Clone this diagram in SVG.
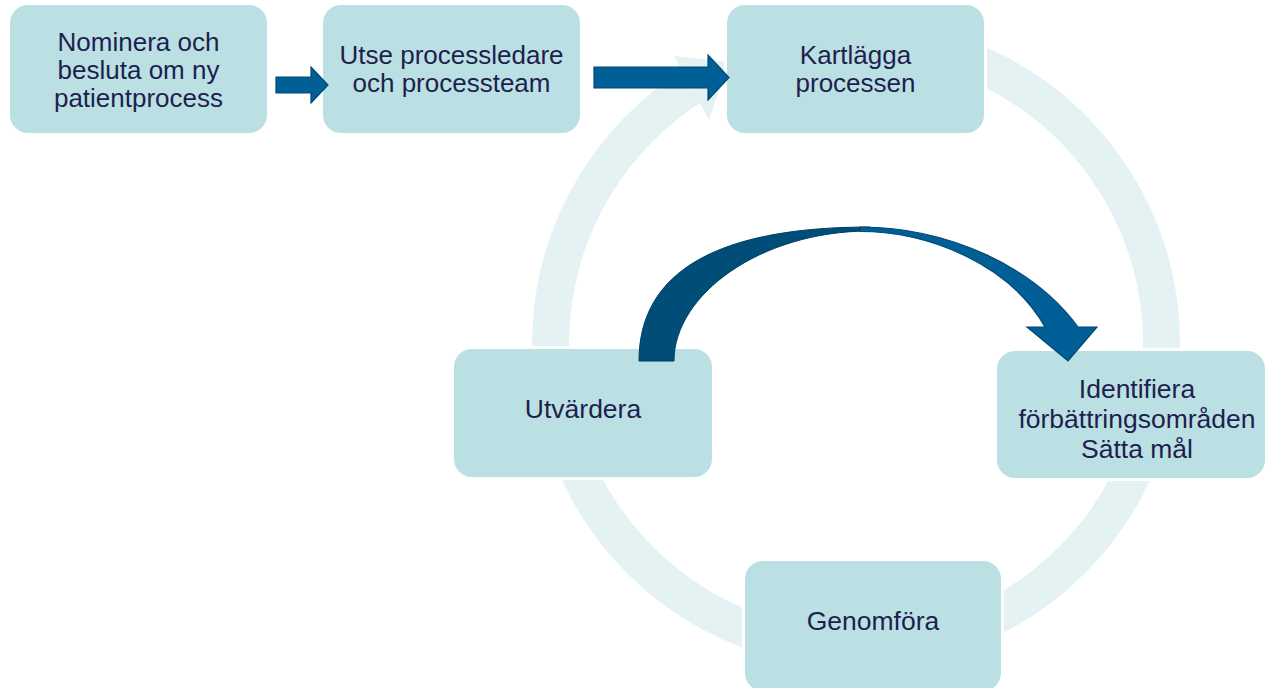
<svg xmlns="http://www.w3.org/2000/svg" width="1266" height="688" viewBox="0 0 1266 688">
<style>
.box{fill:#bbe0e3;stroke:#ffffff;stroke-width:6;paint-order:stroke}
.t{font-family:"Liberation Sans",Arial,sans-serif;font-size:26.5px;fill:#1e1f4f;text-anchor:middle}
.ts{font-size:26px}
.ring{fill:none;stroke:#e5f2f4;stroke-width:37}
.arr{fill:#005f96;stroke:#004872;stroke-width:1.2;stroke-linejoin:miter}
.arrd{fill:#004d78;stroke:#003f66;stroke-width:1}
</style>
<rect width="1266" height="688" fill="#ffffff"/>
<g id="cycle">
<path class="ring" d="M 856 38.5 A 305.5 305.5 0 1 1 690.9 87"/>
<polygon points="674,56 709,120 729,62" fill="#e5f2f4"/>
</g>
<g id="n1"><rect class="box" x="10" y="5" width="257" height="128" rx="18"/>
<text class="t ts"><tspan x="138.5" y="51">Nominera och</tspan><tspan x="138.5" y="79">besluta om ny</tspan><tspan x="138.5" y="107">patientprocess</tspan></text></g>
<g id="n2"><rect class="box" x="323" y="5" width="257" height="128" rx="18"/>
<text class="t ts"><tspan x="451.5" y="64">Utse processledare</tspan><tspan x="451.5" y="92">och processteam</tspan></text></g>
<g id="n3"><rect class="box" x="727" y="5" width="257" height="128" rx="18"/>
<text class="t ts"><tspan x="855.5" y="64">Kartlägga</tspan><tspan x="855.5" y="92">processen</tspan></text></g>
<g id="n4"><rect class="box" x="997" y="351" width="268" height="127" rx="18"/>
<text class="t"><tspan x="1137" y="398">Identifiera</tspan><tspan x="1137" y="428">förbättringsområden</tspan><tspan x="1137" y="458">Sätta mål</tspan></text></g>
<g id="n5"><rect class="box" x="745" y="561" width="256" height="130" rx="18"/>
<text class="t"><tspan x="873" y="630">Genomföra</tspan></text></g>
<g id="n6"><rect class="box" x="454" y="349" width="258" height="128" rx="18"/>
<text class="t"><tspan x="583" y="418">Utvärdera</tspan></text></g>
<g id="connectors">
<polygon class="arr" points="276,77 311,77 311,67 328,85 311,103 311,93 276,93"/>
<polygon class="arr" points="594,67 708,67 708,55 729,77.5 708,100 708,88 594,88"/>
<path class="arrd" d="M 639 361 C 639 270 720 227 870 227 L 870 231 C 760 231 674 295 674 361 Z"/>
<path class="arr" d="M 860 227 C 950 227 1035 268 1078 327 L 1097 327 L 1068 361 L 1027 327 L 1045 327 C 1010 265 930 231.5 860 231.5 Z"/>
</g>
</svg>
